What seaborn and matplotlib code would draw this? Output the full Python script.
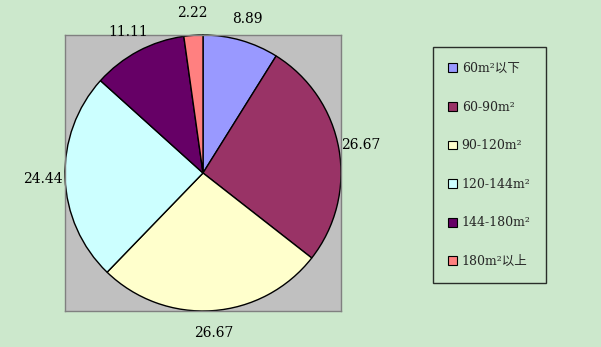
import matplotlib
matplotlib.use("Agg")
import matplotlib.pyplot as plt
import seaborn as sns
from matplotlib.patches import Patch

categories = ["60m²以下", "60-90m²", "90-120m²", "120-144m²", "144-180m²", "180m²以上"]
values = [8.89, 26.67, 26.67, 24.44, 11.11, 2.22]
value_labels = ["8.89", "26.67", "26.67", "24.44", "11.11", "2.22"]
colors = ["#9999FF", "#993366", "#FFFFCC", "#CCFFFF", "#660066", "#FF8080"]

sns.set_theme(style="white")
plt.rcParams["font.family"] = ["DejaVu Serif", "Noto Sans CJK SC"]

bg = "#CCE8CC"
fig = plt.figure(figsize=(6.01, 3.47), dpi=100, facecolor=bg)
ax = fig.add_axes([65/601, 1 - 311/347, 276/601, 276/347])

wedges, texts = ax.pie(values, labels=value_labels, colors=colors, startangle=90,
                       counterclock=False, labeldistance=1.16, radius=1, frame=True,
                       wedgeprops=dict(edgecolor="black", linewidth=1.0),
                       textprops=dict(fontsize=10, color="black"))
for t in texts:
    t.set_horizontalalignment("center")
    t.set_verticalalignment("center")
ax.set_facecolor("#C0C0C0")
ax.patch.set_visible(True)
ax.set_xlim(-1, 1)
ax.set_ylim(-1, 1)
ax.set_aspect("auto")
ax.set_xticks([])
ax.set_yticks([])
for s in ax.spines.values():
    s.set_visible(True)
    s.set_color("#808080")
    s.set_linewidth(1.0)

handles = [Patch(facecolor=c, edgecolor="black", linewidth=0.8) for c in colors]
leg = fig.legend(handles, categories, loc="upper left",
                 bbox_to_anchor=(433/601, 1 - 47/347), bbox_transform=fig.transFigure,
                 frameon=True, fontsize=9, labelspacing=2.05, handlelength=0.7,
                 handleheight=0.7, handletextpad=0.4, borderpad=1.2, borderaxespad=0,
                 fancybox=False)
leg.get_frame().set_edgecolor("black")
leg.get_frame().set_facecolor(bg)
leg.get_frame().set_linewidth(1.0)

fig.savefig("out.png", dpi=100, facecolor=bg)
